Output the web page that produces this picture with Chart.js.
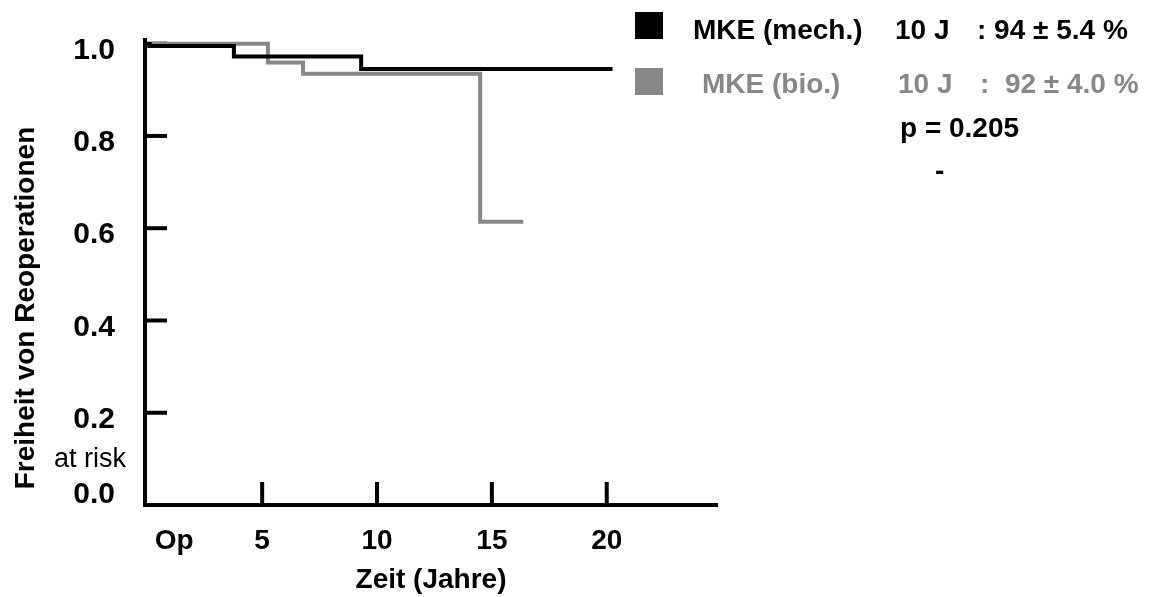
<!DOCTYPE html>
<html>
<head>
<meta charset="utf-8">
<script src="https://cdn.jsdelivr.net/npm/chart.js@4"></script>
<style>
  html, body { margin: 0; padding: 0; background: #fff; }
  #wrap { width: 1149px; height: 597px; position: relative; }
</style>
</head>
<body>
<div id="wrap"><canvas id="kmChart"></canvas></div>
<script>
// Kaplan-Meier steps (years, freedom from reoperation)
const mechTimes = [0, 3.77, 9.31, 20.25];
const mechSurv = [0.995, 0.972, 0.945, 0.945];
const bioTimes = [0.2, 5.25, 6.78, 14.49, 16.37];
const bioSurv = [1.0, 0.959, 0.935, 0.614, 0.614];

// axis ticks
const xTickValues = [1.17, 5, 10, 15, 20];
const xTickLabels = ['Op', '5', '10', '15', '20'];
const yTickValues = [0.0375, 0.2, 0.4, 0.6, 0.8, 1.0];
const yTickLabels = ['0.0', '0.2', '0.4', '0.6', '0.8', '1.0'];
const xMarkValues = [5, 10, 15, 20];
const yMarkValues = [0.2, 0.4, 0.6, 0.8, 1.0];

// legend / annotation text
const seriesNames = ['MKE (mech.)', 'MKE (bio.)'];
const seriesN = ['10 J', '10 J'];
const seriesRates = [': 94 ± 5.4 %', ':  92 ± 4.0 %'];
const seriesColors = ['#000000', '#878787'];
const pText = 'p = 0.205';

const FONT = '"Liberation Sans", Arial, sans-serif';

const toPoints = (ts, ss) => ts.map((t, i) => ({ x: t, y: ss[i] }));

const extras = {
  id: 'extras',
  beforeDatasetsDraw(chart) {
    const { ctx, scales: { x, y } } = chart;
    ctx.save();
    ctx.strokeStyle = '#000';
    ctx.lineWidth = 4;
    xMarkValues.forEach(v => {
      const px = x.getPixelForValue(v);
      ctx.beginPath();
      ctx.moveTo(px, y.bottom);
      ctx.lineTo(px, y.bottom - 23);
      ctx.stroke();
    });
    yMarkValues.forEach(v => {
      const py = y.getPixelForValue(v);
      ctx.beginPath();
      ctx.moveTo(x.left, py);
      ctx.lineTo(x.left + 22, py);
      ctx.stroke();
    });
    ctx.restore();
  },
  afterDraw(chart) {
    const { ctx } = chart;
    ctx.save();
    // y title
    ctx.fillStyle = '#000';
    ctx.font = 'bold 28px ' + FONT;
    ctx.textBaseline = 'alphabetic';
    ctx.textAlign = 'center';
    ctx.save();
    ctx.translate(34, 308);
    ctx.rotate(-Math.PI / 2);
    ctx.fillText('Freiheit von Reoperationen', 0, 0);
    ctx.restore();

    ctx.font = '27px ' + FONT;
    ctx.fillText('at risk', 90, 467);

    // legend block
    ctx.textAlign = 'left';
    const rows = [{ sq: 12, base: 39, nameX: 693, nX: 895, rX: 977 },
                  { sq: 68, base: 93, nameX: 702, nX: 898, rX: 980 }];
    rows.forEach((r, i) => {
      ctx.fillStyle = seriesColors[i];
      ctx.fillRect(635, r.sq, 28, 27);
      ctx.font = 'bold 28px ' + FONT;
      ctx.fillText(seriesNames[i], r.nameX, r.base);
      ctx.fillText(seriesN[i], r.nX, r.base);
      ctx.fillText(seriesRates[i], r.rX, r.base);
    });
    ctx.fillStyle = '#000';
    ctx.fillText(pText, 900, 137);
    ctx.fillText('-', 935, 180);
    ctx.restore();
  }
};

new Chart(document.getElementById('kmChart'), {
  type: 'line',
  data: {
    datasets: [
      {
        label: seriesNames[0],
        data: toPoints(mechTimes, mechSurv),
        stepped: true,
        borderColor: seriesColors[0],
        borderWidth: 4,
        pointRadius: 0,
        fill: false
      },
      {
        label: seriesNames[1],
        data: toPoints(bioTimes, bioSurv),
        stepped: true,
        borderColor: seriesColors[1],
        borderWidth: 4,
        pointRadius: 0,
        fill: false
      }
    ]
  },
  options: {
    responsive: true,
    maintainAspectRatio: false,
    animation: false,
    layout: { padding: { top: 40, right: 432, bottom: 0, left: 0 } },
    plugins: {
      legend: { display: false },
      tooltip: { enabled: false }
    },
    scales: {
      x: {
        type: 'linear',
        min: -0.1,
        max: 24.8,
        afterFit: s => { s.height = 92; s.paddingLeft = 0; s.paddingRight = 0; },
        afterBuildTicks: s => { s.ticks = xTickValues.map(v => ({ value: v })); },
        grid: { display: false, drawTicks: false },
        border: { display: true, color: '#000', width: 4 },
        ticks: {
          autoSkip: false,
          maxRotation: 0,
          padding: 19,
          color: '#000',
          font: { family: FONT, size: 28, weight: 'bold' },
          callback: (v, i) => xTickLabels[i]
        },
        title: {
          display: true,
          text: 'Zeit (Jahre)',
          color: '#000',
          font: { family: FONT, size: 28, weight: 'bold' },
          padding: { top: 0, bottom: 0 }
        }
      },
      y: {
        min: 0,
        max: 1.008,
        afterFit: s => { s.width = 145; s.paddingTop = 0; s.paddingBottom = 0; },
        afterBuildTicks: s => { s.ticks = yTickValues.map(v => ({ value: v })); },
        grid: { display: false, drawTicks: false },
        border: { display: true, color: '#000', width: 4 },
        ticks: {
          autoSkip: false,
          padding: 30,
          labelOffset: 7,
          color: '#000',
          font: { family: FONT, size: 30, weight: 'bold' },
          callback: (v, i) => yTickLabels[i]
        }
      }
    }
  },
  plugins: [extras]
});
</script>
</body>
</html>
